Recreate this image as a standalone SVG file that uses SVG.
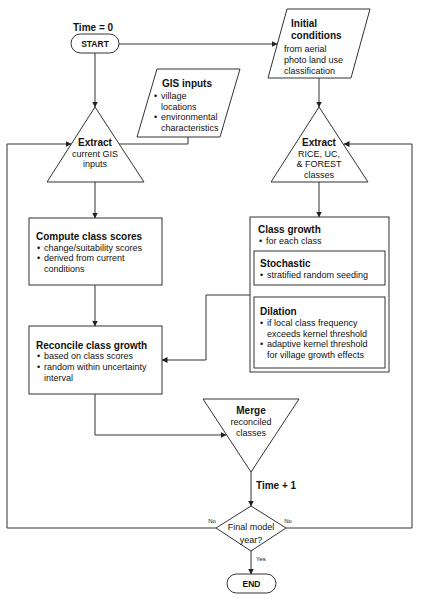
<svg xmlns="http://www.w3.org/2000/svg" width="422" height="600" viewBox="0 0 422 600">
<defs>
<marker id="arr" markerWidth="6" markerHeight="6" refX="5.5" refY="3" orient="auto" markerUnits="userSpaceOnUse">
<path d="M0,0 L6,3 L0,6 Z" fill="#222"/>
</marker>
<style>
.s{fill:#fff;stroke:#333;stroke-width:1}
.c{fill:none;stroke:#333;stroke-width:1}
.a{marker-end:url(#arr)}
text{font-family:"Liberation Sans",Arial,sans-serif;fill:#111}
.h{font-size:10px;font-weight:bold}
.b{font-size:9px}
.t{font-size:8.5px;font-weight:bold}
.n{font-size:6px}
.m{text-anchor:middle}
</style>
</defs>
<rect width="422" height="600" fill="#fff"/>
<g id="connectors">
<path class="c a" d="M119,44 H277"/>
<path class="c a" d="M95,53 V107"/>
<path class="c a" d="M319,78 V107"/>
<path class="c" d="M188,137 V144 H119"/>
<path class="c a" d="M95,182 V218"/>
<path class="c a" d="M319,182 V217"/>
<path class="c a" d="M95,285 V326"/>
<path class="c a" d="M319,285 V297"/>
<path class="c a" d="M250,295 H206 V360 H162"/>
<path class="c a" d="M95,394 V435 H226"/>
<path class="c a" d="M251,472 V506"/>
<path class="c a" d="M251,551 V574"/>
<path class="c a" d="M216,528 H7 V144 H71"/>
<path class="c a" d="M286,528 H412 V144 H344"/>
</g>
<g id="time0"><text class="h m" x="93" y="31">Time = 0</text></g>
<g id="start">
<rect class="s" x="71" y="34" width="48" height="19" rx="9.5"/>
<text class="t m" x="95" y="47">START</text>
</g>
<g id="initial">
<polygon class="s" points="287,9 370,9 351,78 268,78"/>
<text class="h" x="291" y="27">Initial</text>
<text class="h" x="291" y="39">conditions</text>
<text class="b" x="284" y="52">from aerial</text>
<text class="b" x="284" y="63">photo land use</text>
<text class="b" x="284" y="74">classification</text>
</g>
<g id="gis">
<polygon class="s" points="157,69 240,69 220,137 137,137"/>
<text class="h" x="162" y="87">GIS inputs</text>
<text class="b" x="154" y="99">•</text><text class="b" x="161" y="99">village</text>
<text class="b" x="161" y="109.5">locations</text>
<text class="b" x="154" y="120">•</text><text class="b" x="161" y="120">environmental</text>
<text class="b" x="161" y="130.5">characteristics</text>
</g>
<g id="extract-left">
<polygon class="s" points="95,107 144,182 47,182"/>
<text class="h m" x="95" y="146">Extract</text>
<text class="b m" x="95" y="156.5">current GIS</text>
<text class="b m" x="95" y="167">inputs</text>
</g>
<g id="extract-right">
<polygon class="s" points="319,107 368,182 271,182"/>
<text class="h m" x="319" y="146">Extract</text>
<text class="b m" x="319" y="156.5">RICE, UC,</text>
<text class="b m" x="319" y="167">&amp; FOREST</text>
<text class="b m" x="319" y="177.5">classes</text>
</g>
<g id="compute">
<rect class="s" x="29" y="218" width="133" height="67"/>
<text class="h" x="36" y="240">Compute class scores</text>
<text class="b" x="37" y="250.5">•</text><text class="b" x="44" y="250.5">change/suitability scores</text>
<text class="b" x="37" y="261">•</text><text class="b" x="44" y="261">derived from current</text>
<text class="b" x="44" y="271.5">conditions</text>
</g>
<g id="reconcile">
<rect class="s" x="29" y="326" width="133" height="68"/>
<text class="h" x="36" y="349">Reconcile class growth</text>
<text class="b" x="37" y="359">•</text><text class="b" x="44" y="359">based on class scores</text>
<text class="b" x="37" y="370">•</text><text class="b" x="44" y="370">random within uncertainty</text>
<text class="b" x="44" y="381">interval</text>
</g>
<g id="classgrowth">
<rect class="s" x="250" y="217" width="139" height="155"/>
<text class="h" x="258" y="233">Class growth</text>
<text class="b" x="259" y="243.5">•</text><text class="b" x="266" y="243.5">for each class</text>
</g>
<g id="stochastic">
<rect class="s" x="254" y="251" width="131" height="34"/>
<text class="h" x="260" y="267">Stochastic</text>
<text class="b" x="260" y="277.5">•</text><text class="b" x="267" y="277.5">stratified random seeding</text>
</g>
<g id="dilation">
<rect class="s" x="254" y="297" width="131" height="71"/>
<text class="h" x="260" y="315">Dilation</text>
<text class="b" x="260" y="326">•</text><text class="b" x="267" y="326">if local class frequency</text>
<text class="b" x="267" y="336.5">exceeds kernel threshold</text>
<text class="b" x="260" y="347">•</text><text class="b" x="267" y="347">adaptive kernel threshold</text>
<text class="b" x="267" y="357.5">for village growth effects</text>
</g>
<g id="merge">
<polygon class="s" points="203,399 299,399 251,472"/>
<text class="h m" x="251" y="414">Merge</text>
<text class="b m" x="251" y="425">reconciled</text>
<text class="b m" x="251" y="436">classes</text>
</g>
<g id="time1"><text class="h" x="256" y="489">Time + 1</text></g>
<g id="decision">
<polygon class="s" points="251,506 286,528 251,551 216,528"/>
<text class="b m" x="251" y="530">Final model</text>
<text class="b m" x="251" y="543">year?</text>
<text class="n m" x="212" y="523">No</text>
<text class="n m" x="288" y="523">No</text>
<text class="n" x="256" y="561">Yes</text>
</g>
<g id="end">
<rect class="s" x="227" y="574" width="49" height="19" rx="9.5"/>
<text class="t m" x="251.5" y="587">END</text>
</g>
</svg>
